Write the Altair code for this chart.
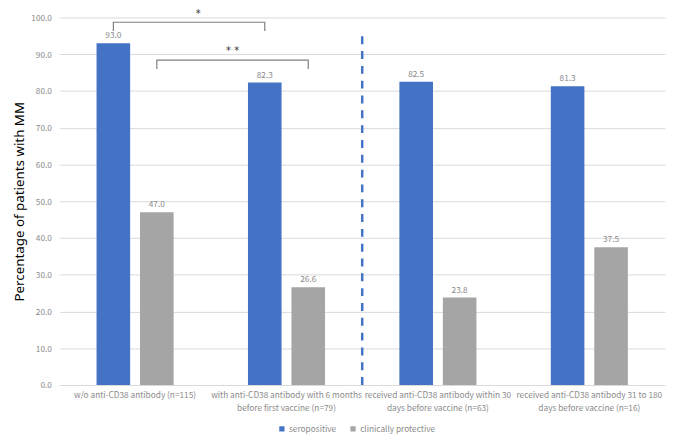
import altair as alt
import pandas as pd

categories = [
    "w/o anti-CD38 antibody (n=115)",
    "with anti-CD38 antibody with 6 months|before first vaccine (n=79)",
    "received anti-CD38 antibody within 30|days before vaccine (n=63)",
    "received anti-CD38 antibody 31 to 180|days before vaccine (n=16)",
]
series = ["seropositive", "clinically protective"]
seropositive = [93.0, 82.3, 82.5, 81.3]
protective = [47.0, 26.6, 23.8, 37.5]
colors = ["#4472C4", "#A5A5A5"]
y_ticks = [0, 10, 20, 30, 40, 50, 60, 70, 80, 90, 100]

# significance brackets (blue-to-blue "*", grey-to-grey "* *")
bracket_from = [categories[0], categories[0]]
bracket_to = [categories[1], categories[1]]
bracket_series = ["seropositive", "clinically protective"]
bracket_top = [98.7, 88.4]
bracket_foot = [96.3, 86.0]
bracket_text = ["*", "* *"]
bracket_text_y = [101.0, 90.9]
bracket_text_cat = [categories[0], categories[1]]
bracket_text_band = [0.917, 0.144]

divider_cat = categories[2]
divider_top = 96.3

FONT = "Noto Sans CJK JP"
TXT = "#8a8a8a"
FS = 8.4

rows = []
for i, c in enumerate(categories):
    rows.append({"cat": c, "series": series[0], "value": seropositive[i]})
    rows.append({"cat": c, "series": series[1], "value": protective[i]})
df = pd.DataFrame(rows)

br_rows = []
for b in range(len(bracket_from)):
    pts = [(bracket_from[b], bracket_foot[b]), (bracket_from[b], bracket_top[b]),
           (bracket_to[b], bracket_top[b]), (bracket_to[b], bracket_foot[b])]
    for k, (c, y) in enumerate(pts):
        br_rows.append({"cat": c, "series": bracket_series[b], "value": y, "ord": k, "br": b})
br_df = pd.DataFrame(br_rows)

xscale = alt.Scale(paddingInner=0, paddingOuter=0)
offscale = alt.Scale(paddingInner=0.2273, paddingOuter=0.855)
yscale = alt.Scale(domain=[0, 100])

XAXIS = alt.Axis(labelAngle=0, domain=False, ticks=False, labelPadding=6,
                 labelExpr="split(datum.label, '|')", labelLineHeight=13,
                 labelOverlap=False, labelLimit=0, labelFont=FONT,
                 labelFontSize=FS, labelColor=TXT, grid=False)
YAXIS = alt.Axis(values=y_ticks, format=".1f", domain=False,
                 ticks=False, labelPadding=8, labelFont=FONT, labelFontSize=FS,
                 labelColor=TXT, labelOverlap=False, grid=True, gridColor="#d9d9d9",
                 titleFont="Noto Sans", titleFontSize=13.5, titleFontWeight="normal",
                 titleColor="#000000", titlePadding=4)

def X(**kw):
    return alt.X("cat:N", sort=categories, scale=xscale, title=None, axis=XAXIS, **kw)

def Y(**kw):
    return alt.Y("value:Q", scale=yscale, title="Percentage of patients with MM",
                 axis=YAXIS, **kw)

XO = alt.XOffset("series:N", sort=series, scale=offscale)

bars = alt.Chart(df).mark_bar().encode(
    x=X(),
    xOffset=XO,
    y=Y(),
    color=alt.Color("series:N", sort=series,
                    scale=alt.Scale(domain=series, range=colors),
                    legend=alt.Legend(title=None, orient="none", direction="horizontal",
                                      legendX=221, legendY=412, symbolType="square",
                                      symbolSize=28, symbolStrokeWidth=0,
                                      labelFont=FONT, labelFontSize=FS, labelColor=TXT,
                                      labelOffset=3, columnPadding=12)),
)

labels = alt.Chart(df).mark_text(baseline="bottom", dy=-3, font=FONT, fontSize=FS,
                                 color=TXT).encode(
    x=X(), xOffset=XO, y=Y(), text=alt.Text("value:Q", format=".1f"))

brackets = alt.Chart(br_df).mark_line(color="#7f7f7f", strokeWidth=1.2).encode(
    x=X(), xOffset=XO, y=Y(), detail="br:N", order="ord:Q")

star_layers = []
for t, yv, c, bp in zip(bracket_text, bracket_text_y, bracket_text_cat, bracket_text_band):
    sdf = pd.DataFrame({"cat": [c], "value": [yv], "t": [t]})
    star_layers.append(
        alt.Chart(sdf).mark_text(font="DejaVu Sans", fontSize=10, color="#333333",
                                 baseline="middle").encode(
            x=X(bandPosition=bp), y=Y(), text="t:N"))

div_df = pd.DataFrame({"cat": [divider_cat], "value": [0.0], "value2": [divider_top]})
divider = alt.Chart(div_df).mark_rule(color="#4472C4", strokeWidth=2.5,
                                      strokeDash=[8, 7]).encode(
    x=X(bandPosition=0), y=Y(), y2="value2:Q")

chart = alt.layer(bars, labels, brackets, divider, *star_layers).properties(
    width=613, height=372,
    autosize=alt.AutoSizeParams(type="none"),
    padding={"left": 52, "top": 7, "right": 3, "bottom": 48},
).configure_view(stroke=None)

chart.save("out.html", embed_options={"renderer": "svg", "actions": False})
